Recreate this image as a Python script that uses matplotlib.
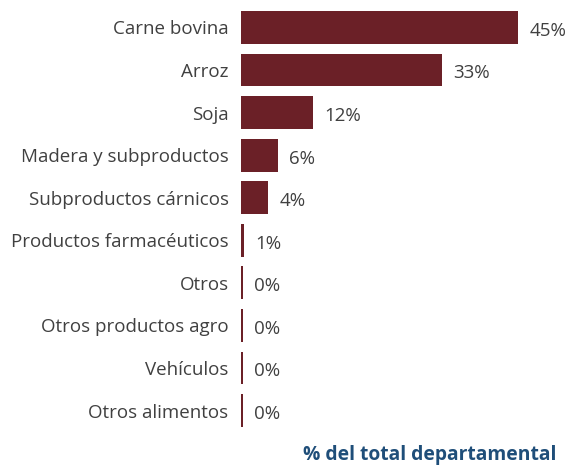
import matplotlib
matplotlib.use("Agg")
import matplotlib.pyplot as plt

categories = ["Carne bovina", "Arroz", "Soja", "Madera y subproductos",
              "Subproductos cárnicos", "Productos farmacéuticos", "Otros",
              "Otros productos agro", "Vehículos", "Otros alimentos"]
values = [45.0, 32.6, 11.7, 6.0, 4.4, 0.5, 0.25, 0.25, 0.25, 0.25]
labels = ["45%", "33%", "12%", "6%", "4%", "1%", "0%", "0%", "0%", "0%"]

plt.rcParams['font.family'] = ['Open Sans', 'DejaVu Sans']

fig = plt.figure(figsize=(5.7, 4.7), dpi=100)
ax = fig.add_axes([0.423, 0.081, 0.540, 0.906])
y = list(range(len(categories)))
ax.barh(y, values, height=0.77, color="#6b2027")
for yi, v, lab in zip(y, values, labels):
    ax.text(v + 1.8, yi + 0.08, lab, va="center", ha="left", fontsize=13.5, color="#404040")
ax.set_yticks(y)
ax.set_yticklabels(categories, fontsize=13.5, color="#404040")
ax.tick_params(axis="y", length=0, pad=9)
ax.set_xlim(0, 50)
ax.set_ylim(len(categories) - 0.5, -0.5)
ax.set_xticks([])
for s in ax.spines.values():
    s.set_visible(False)
fig.text(0.753, 0.032, "% del total departamental", ha="center", va="center",
         fontsize=13.9, fontweight="bold", color="#1f4e79")
fig.savefig("out.png", dpi=100)
